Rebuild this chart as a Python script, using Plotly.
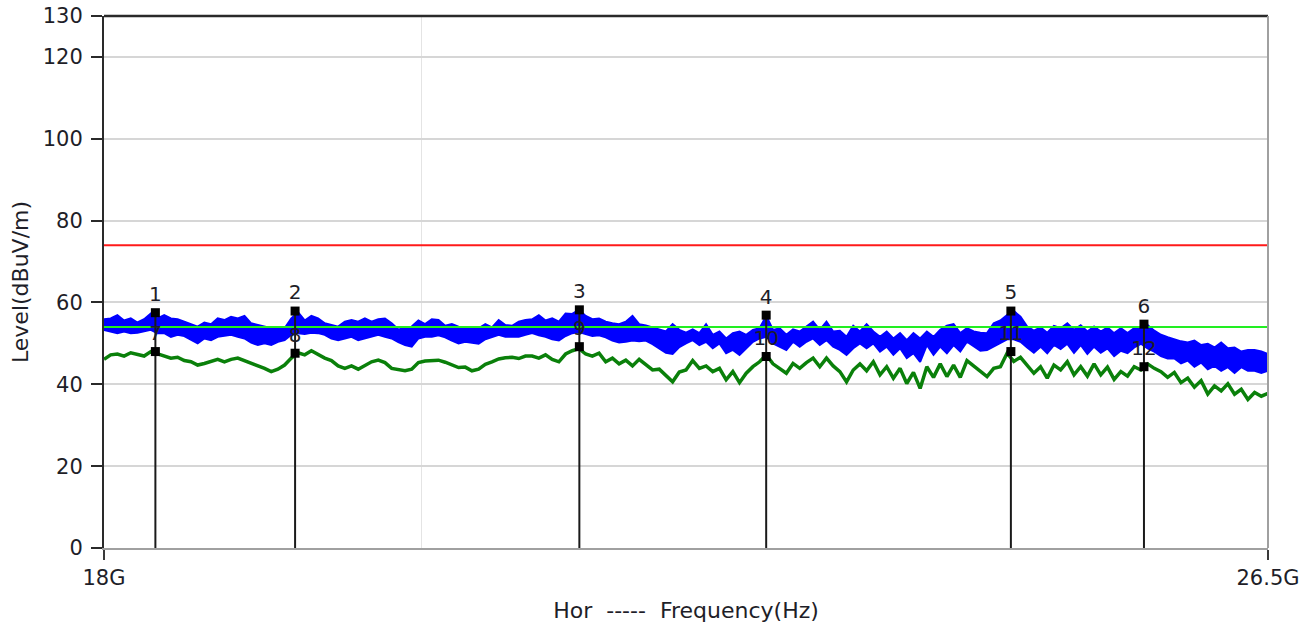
import numpy as np
import plotly.graph_objects as go

# ---------------- data ----------------
f_start_hz = 18e9
f_stop_hz = 26.5e9

# Average detector trace (dBuV/m), sweep points evenly spaced on log-frequency
avg_level = [
    46.1, 47.2, 47.4, 46.9, 47.7, 47.2, 46.9, 48.0, 47.4, 46.8, 46.4, 46.6, 45.8, 45.5, 44.7,
    45.1, 45.5, 46.1, 45.5, 46.1, 46.4, 45.8, 45.1, 44.7, 43.9, 43.1, 43.7, 44.7, 46.4, 47.7,
    47.2, 48.2, 47.2, 46.4, 45.8, 44.5, 43.9, 44.5, 43.7, 44.7, 45.5, 45.9, 45.3, 43.9,
    43.5, 43.3, 43.7, 45.3, 45.7, 45.9, 45.9, 45.4, 44.7, 44.1, 44.2, 43.3, 43.7, 44.9, 45.5,
    46.2, 46.5, 46.6, 46.3, 46.9, 46.9, 46.4, 47.2, 46.1, 45.5, 47.4, 48.2, 48.7, 47.4, 46.9,
    47.6, 45.5, 46.4, 45.0, 45.9, 44.5, 46.1, 44.7, 43.5, 43.7, 42.0, 40.6,
    43.0,
    43.5, 45.8, 43.9, 44.5, 43.1, 43.9, 41.1, 43.1, 40.4, 42.7, 44.3, 45.5, 47.2, 45.0, 43.9,
    42.7, 45.1, 43.9, 45.3, 46.4, 44.3, 46.4, 44.5, 43.1, 40.6, 43.5, 45.0, 43.3, 45.5, 42.3,
    44.3, 41.5, 43.9, 40.2, 42.9, 39.0, 44.3, 41.7, 45.0, 41.9, 44.7, 41.7, 45.8, 44.5,
    43.1, 41.9, 43.9, 44.3, 47.6, 45.6, 46.6, 44.7, 42.7, 44.3, 41.5, 44.7, 43.5, 45.5, 42.3,
    44.3, 42.0, 45.0, 42.3, 44.2, 41.2, 43.1, 42.0, 44.3, 43.5, 45.0, 43.9, 43.1, 41.7, 42.9,
    40.4, 41.5, 39.3, 40.9, 37.6, 39.6, 38.4, 40.1, 37.6, 38.8, 36.3, 38.0, 37.1, 37.8,
]

# Peak detector trace: upper and lower envelope of the noisy band (dBuV/m)
peak_upper = [
    55.9, 56.1, 56.9, 55.6, 56.1, 55.1, 55.9, 57.3, 56.1, 56.9, 56.1, 55.9, 55.3, 54.7, 54.1,
    55.1, 54.7, 56.1, 55.7, 56.5, 56.1, 56.7, 54.9, 54.5, 54.1, 53.7, 53.9, 53.7, 56.1, 57.6,
    55.6, 56.7, 56.1, 54.9, 54.5, 54.1, 55.3, 55.7, 55.3, 56.1, 55.3, 55.9, 56.1, 54.9,
    53.4, 53.7, 54.1, 55.6, 54.7, 55.9, 55.7, 54.3, 54.7, 54.1, 53.8, 53.9, 53.7, 54.7, 53.9,
    55.7, 54.5, 54.3, 55.3, 55.7, 55.9, 56.9, 55.6, 56.1, 55.3, 57.3, 57.2, 58.2, 56.7, 55.9,
    56.1, 55.3, 54.9, 54.7, 55.3, 56.7, 54.7, 54.4, 53.9, 53.3, 52.9, 54.7,
    53.3,
    52.6, 53.4, 52.5, 54.7, 52.1, 52.9, 51.2, 52.5, 52.9, 52.1, 53.3, 53.7, 56.7, 53.3, 53.7,
    52.1, 53.4, 52.9, 54.1, 55.3, 53.3, 55.3, 52.9, 53.1, 51.6, 54.3, 52.9, 54.7, 52.9, 51.6,
    52.9, 51.2, 52.5, 50.8, 52.5, 51.2, 52.9, 51.6, 53.3, 54.3, 54.7, 52.5, 53.7, 52.9,
    52.6, 52.5, 54.9, 55.6, 56.9, 57.9, 56.5, 54.1, 53.1, 53.9, 52.6, 54.3, 53.7, 54.9, 53.3,
    54.4, 52.9, 54.1, 52.9, 53.9, 52.5, 53.7, 52.5, 53.7, 54.1, 54.5, 53.1, 52.1, 51.5, 51.0,
    50.5, 50.2, 50.7, 49.6, 49.9, 49.0, 50.2, 48.8, 49.0, 48.0, 48.4, 48.4, 48.0, 47.4,
]
peak_lower = [
    53.3, 52.9, 52.5, 52.9, 52.5, 52.6, 52.9, 53.3, 52.5, 52.5, 51.6, 52.1, 51.8, 51.0, 50.0,
    51.2, 50.8, 51.6, 51.8, 52.1, 51.6, 51.2, 50.2, 49.6, 50.0, 49.6, 50.4, 50.8, 52.1, 52.5,
    52.3, 52.6, 52.5, 52.1, 51.2, 50.8, 51.2, 51.6, 50.8, 51.2, 51.6, 52.1, 51.6, 51.2,
    50.3, 49.6, 49.2, 51.2, 51.6, 51.6, 52.0, 51.5, 50.7, 50.0, 50.4, 50.2, 49.9, 51.0, 51.6,
    52.1, 51.6, 51.6, 51.6, 52.1, 52.5, 52.0, 51.6, 51.0, 50.7, 51.8, 52.5, 52.8, 52.3, 51.8,
    52.0, 51.5, 50.7, 50.2, 50.4, 50.7, 50.5, 50.7, 49.8, 48.8, 47.7, 47.4,
    49.1,
    50.0, 50.8, 49.6, 50.4, 48.8, 50.0, 47.6, 48.4, 47.2, 48.8, 50.4, 51.2, 51.6, 50.0, 49.2,
    48.4, 50.4, 49.2, 50.4, 51.2, 49.6, 50.8, 49.2, 48.4, 47.2, 48.8, 50.0, 48.8, 50.0, 48.0,
    49.2, 47.2, 48.8, 46.4, 47.6, 45.5, 49.6, 47.2, 49.2, 47.6, 49.6, 48.0, 50.4, 49.2,
    48.2, 48.4, 49.2, 50.2, 51.0, 51.0, 50.4, 49.0, 47.7, 49.2, 47.6, 49.6, 48.6, 49.9, 47.7,
    49.6, 47.4, 49.2, 47.7, 48.8, 46.9, 48.2, 47.6, 49.0, 49.9, 48.8, 48.0, 46.9, 46.3, 46.3,
    45.1, 45.8, 44.3, 45.3, 43.7, 44.5, 43.3, 44.2, 42.8, 44.2, 43.3, 43.3, 42.8, 43.3,
]

# Limit lines (dBuV/m)
limit_peak = 74.0
limit_avg = 54.0

# Markers
marker_freq_ghz = [18.31, 19.18, 21.08, 22.43, 24.33, 25.43]
marker_peak = [57.5, 57.9, 58.2, 56.9, 57.9, 54.7]
marker_avg = [48.0, 47.6, 49.2, 46.8, 48.0, 44.3]
marker_peak_labels = ["1", "2", "3", "4", "5", "6"]
marker_avg_labels = ["7", "8", "9", "10", "11", "12"]

y_tick_vals = [0, 20, 40, 60, 80, 100, 120, 130]
x_tick_vals = [18e9, 26.5e9]
x_tick_text = ["18G", "26.5G"]
x_minor_grid = [20e9]

# ---------------- build ----------------
n = len(avg_level)
assert len(peak_upper) == n and len(peak_lower) == n
freq = np.geomspace(f_start_hz, f_stop_hz, n)

mk_f = np.array(marker_freq_ghz) * 1e9
stem_x, stem_y = [], []
for fx, py in zip(mk_f, marker_peak):
    stem_x += [fx, fx, None]
    stem_y += [py, 0, None]

FONT = "DejaVu Sans"
TXT = "#1e1e28"
BLUE = "#0000ff"

fig = go.Figure()
# peak band: upper envelope, then lower envelope filled up to it
fig.add_trace(go.Scatter(x=freq, y=peak_upper, mode="lines",
                         line=dict(color=BLUE, width=2), hoverinfo="skip"))
fig.add_trace(go.Scatter(x=freq, y=peak_lower, mode="lines", fill="tonexty",
                         fillcolor=BLUE, line=dict(color=BLUE, width=2), hoverinfo="skip"))
fig.add_trace(go.Scatter(x=freq, y=avg_level, mode="lines",
                         line=dict(color="#0a800a", width=3.5), hoverinfo="skip"))
fig.add_trace(go.Scatter(x=[f_start_hz, f_stop_hz], y=[limit_peak, limit_peak], mode="lines",
                         line=dict(color="#ff1a1a", width=2)))
fig.add_trace(go.Scatter(x=[f_start_hz, f_stop_hz], y=[limit_avg, limit_avg], mode="lines",
                         line=dict(color="#22ee22", width=2)))
fig.add_trace(go.Scatter(x=stem_x, y=stem_y, mode="lines",
                         line=dict(color="#1a1a1a", width=2)))
fig.add_trace(go.Scatter(x=mk_f, y=marker_peak, mode="markers+text",
                         marker=dict(symbol="square", size=9, color="#000000"),
                         text=marker_peak_labels, textposition="top center",
                         textfont=dict(family=FONT, size=20, color=TXT)))
fig.add_trace(go.Scatter(x=mk_f, y=marker_avg, mode="markers+text",
                         marker=dict(symbol="square", size=9, color="#000000"),
                         text=marker_avg_labels, textposition="top center",
                         textfont=dict(family=FONT, size=20, color=TXT)))

fig.update_layout(
    width=1314, height=627,
    margin=dict(l=104, r=46, t=16, b=79),
    paper_bgcolor="white", plot_bgcolor="white",
    showlegend=False,
    font=dict(family=FONT, size=21, color=TXT),
    xaxis=dict(
        type="log", automargin=False,
        range=[np.log10(f_start_hz), np.log10(f_stop_hz)],
        tickmode="array", tickvals=x_tick_vals, ticktext=x_tick_text,
        ticks="outside", ticklen=10, tickwidth=2, tickcolor="#3a3a3a",
        ticklabelstandoff=0, ticklabeloverflow="allow",
        showgrid=False, zeroline=False,
        minor=dict(tickmode="array", tickvals=x_minor_grid, showgrid=True,
                   gridcolor="#e4e4e4", gridwidth=1, ticks=""),
        showline=True, linecolor="#a0a0a0", linewidth=2,
        title=dict(text="Hor  -----  Frequency(Hz)", standoff=13,
                   font=dict(family=FONT, size=22, color=TXT)),
        tickfont=dict(family=FONT, size=21, color=TXT),
    ),
    yaxis=dict(
        range=[0, 130], automargin=False,
        tickmode="array", tickvals=y_tick_vals,
        ticks="outside", ticklen=11, tickwidth=2, tickcolor="#2a2a2a",
        ticklabelstandoff=4, ticklabeloverflow="allow",
        showgrid=True, gridcolor="#d6d6d6", gridwidth=2, zeroline=False,
        showline=True, linecolor="#2a2a2a", linewidth=2,
        title=dict(text="Level(dBuV/m)", standoff=8,
                   font=dict(family=FONT, size=22, color=TXT)),
        tickfont=dict(family=FONT, size=21, color=TXT),
    ),
    shapes=[
        dict(type="line", xref="paper", yref="paper", x0=0, x1=1, y0=1, y1=1,
             line=dict(color="#2a2a2a", width=2.5)),
        dict(type="line", xref="paper", yref="paper", x0=1, x1=1, y0=0, y1=1,
             line=dict(color="#a0a0a0", width=2)),
    ],
)

fig.write_html("out.html", config={"displayModeBar": False},
               post_script="document.body.style.margin='0';")
